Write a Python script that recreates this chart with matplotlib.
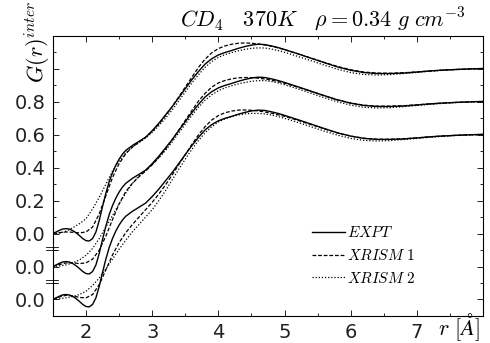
import numpy as np
import matplotlib
matplotlib.use('Agg')
import matplotlib.pyplot as plt
import matplotlib.transforms as mtransforms

plt.rcParams['mathtext.fontset'] = 'cm'

# radial grid for the models (Angstrom)
r = [1.5, 1.6, 1.7, 1.8, 1.9, 2.0, 2.1, 2.2, 2.3, 2.4, 2.5, 2.6, 2.7, 2.8, 2.9,
     3.0, 3.1, 3.2, 3.3, 3.4, 3.5, 3.6, 3.7, 3.8, 3.9, 4.0, 4.1, 4.2, 4.3, 4.4,
     4.5, 4.6, 4.7, 4.8, 4.9, 5.0, 5.2, 5.4, 5.6, 5.8, 6.0, 6.2, 6.4, 6.6, 6.8,
     7.0, 7.2, 7.4, 7.6, 7.8, 8.0]

# experiment (same in every set), finer grid at short range
r_expt = [1.50, 1.55, 1.60, 1.65, 1.70, 1.75, 1.80, 1.85, 1.90, 1.95, 2.00, 2.05,
          2.10, 2.15, 2.20, 2.25, 2.30, 2.35, 2.40, 2.45, 2.50, 2.55, 2.60,
          2.7, 2.8, 2.9, 3.0, 3.1, 3.2, 3.3, 3.4, 3.5, 3.6, 3.7, 3.8, 3.9, 4.0,
          4.1, 4.2, 4.3, 4.4, 4.5, 4.6, 4.7, 4.8, 4.9, 5.0, 5.2, 5.4, 5.6, 5.8,
          6.0, 6.2, 6.4, 6.6, 6.8, 7.0, 7.2, 7.4, 7.6, 7.8, 8.0]
expt = [0.000, 0.010, 0.020, 0.028, 0.030, 0.027, 0.018, 0.005, -0.012, -0.030,
        -0.043, -0.045, -0.030, 0.010, 0.080, 0.165, 0.245, 0.315, 0.370, 0.415,
        0.452, 0.482, 0.505,
        0.535, 0.560, 0.585, 0.625, 0.670, 0.720, 0.770, 0.825, 0.880, 0.935,
        0.985, 1.030, 1.062, 1.085, 1.100, 1.112, 1.125, 1.136, 1.145, 1.150,
        1.148, 1.140, 1.130, 1.118, 1.092, 1.065, 1.038, 1.012, 0.992, 0.978,
        0.972, 0.972, 0.975, 0.981, 0.988, 0.993, 0.997, 1.000, 1.003]

# top set
xr1_a = [0.000, 0.006, 0.010, 0.008, 0.004, 0.010, 0.040, 0.120, 0.230, 0.340,
         0.425, 0.485, 0.525, 0.555, 0.585, 0.620, 0.665, 0.715, 0.770, 0.830,
         0.890, 0.950, 1.010, 1.060, 1.098, 1.124, 1.140, 1.150, 1.156, 1.158,
         1.156, 1.152, 1.146, 1.138, 1.128, 1.117, 1.092, 1.066, 1.040, 1.015,
         0.995, 0.981, 0.975, 0.974, 0.977, 0.982, 0.988, 0.993, 0.997, 1.000, 1.002]
xr2_a = [0.000, 0.002, 0.015, 0.035, 0.060, 0.090, 0.150, 0.220, 0.300, 0.380,
         0.440, 0.490, 0.525, 0.553, 0.580, 0.615, 0.655, 0.700, 0.750, 0.805,
         0.860, 0.915, 0.965, 1.010, 1.045, 1.070, 1.087, 1.099, 1.110, 1.119,
         1.125, 1.128, 1.127, 1.121, 1.112, 1.101, 1.076, 1.050, 1.023, 0.998,
         0.978, 0.966, 0.963, 0.966, 0.972, 0.979, 0.986, 0.992, 0.996, 0.999, 1.001]

# middle set
xr1_b = [0.000, 0.012, 0.022, 0.022, 0.018, 0.022, 0.045, 0.100, 0.185, 0.285,
         0.380, 0.455, 0.505, 0.545, 0.580, 0.618, 0.662, 0.712, 0.768, 0.828,
         0.888, 0.948, 1.005, 1.052, 1.090, 1.115, 1.130, 1.140, 1.146, 1.148,
         1.147, 1.144, 1.139, 1.132, 1.123, 1.113, 1.089, 1.063, 1.037, 1.012,
         0.993, 0.980, 0.974, 0.974, 0.977, 0.982, 0.988, 0.993, 0.997, 1.000, 1.002]
xr2_b = [0.000, 0.003, 0.010, 0.022, 0.040, 0.068, 0.110, 0.170, 0.240, 0.310,
         0.380, 0.445, 0.505, 0.550, 0.585, 0.620, 0.660, 0.705, 0.755, 0.810,
         0.865, 0.918, 0.968, 1.010, 1.043, 1.068, 1.085, 1.098, 1.109, 1.118,
         1.125, 1.129, 1.129, 1.124, 1.115, 1.104, 1.079, 1.052, 1.025, 1.000,
         0.980, 0.967, 0.963, 0.965, 0.971, 0.978, 0.985, 0.991, 0.996, 0.999, 1.001]

# bottom set
xr1_c = [0.000, 0.015, 0.025, 0.022, 0.012, 0.010, 0.030, 0.090, 0.180, 0.270,
         0.345, 0.405, 0.455, 0.500, 0.545, 0.590, 0.640, 0.695, 0.755, 0.818,
         0.880, 0.942, 1.000, 1.050, 1.090, 1.117, 1.134, 1.144, 1.150, 1.151,
         1.149, 1.145, 1.139, 1.131, 1.122, 1.112, 1.088, 1.062, 1.036, 1.011,
         0.992, 0.979, 0.973, 0.973, 0.976, 0.981, 0.988, 0.993, 0.997, 1.000, 1.002]
xr2_c = [0.000, 0.004, 0.010, 0.018, 0.030, 0.050, 0.085, 0.130, 0.185, 0.245,
         0.305, 0.360, 0.410, 0.455, 0.500, 0.545, 0.600, 0.660, 0.725, 0.790,
         0.852, 0.912, 0.966, 1.012, 1.050, 1.078, 1.097, 1.110, 1.120, 1.127,
         1.130, 1.130, 1.127, 1.120, 1.111, 1.100, 1.075, 1.049, 1.022, 0.998,
         0.978, 0.966, 0.962, 0.965, 0.971, 0.978, 0.985, 0.991, 0.996, 0.999, 1.001]

offsets = [0.0, -0.2, -0.4]
sets = [(xr1_a, xr2_a), (xr1_b, xr2_b), (xr1_c, xr2_c)]

ytick_pos = [-0.4, -0.2, 0.0, 0.2, 0.4, 0.6, 0.8, 1.0]
ytick_lab = ['0.0', '0.0', '0.0', '0.2', '0.4', '0.6', '0.8', '']

fig = plt.figure(figsize=(4.9, 3.43), dpi=100)
ax = fig.add_axes([0.108, 0.079, 0.878, 0.816])

r = np.array(r)
r_expt = np.array(r_expt)
for k, (off, (m1, m2)) in enumerate(zip(offsets, sets)):
    ax.plot(r_expt, np.array(expt) + off, c='black', lw=1.0,
            label='$EXPT$' if k == 0 else None)
    ax.plot(r, np.array(m1) + off, c='black', lw=0.9, ls=(0, (3, 1.5)),
            label=r'$XRISM\ \mathrm{1}$' if k == 0 else None)
    ax.plot(r, np.array(m2) + off, c='black', lw=0.9, ls=(0, (1, 1.5)),
            label=r'$XRISM\ \mathrm{2}$' if k == 0 else None)

ax.set_xlim(1.5, 8.0)
ax.set_ylim(-0.5, 1.2)
ax.set_xticks([2, 3, 4, 5, 6, 7])
ax.set_xticks(np.arange(1.5, 8.01, 0.5), minor=True)
ax.set_yticks(ytick_pos)
ax.set_yticklabels(ytick_lab)
ax.set_yticks(np.arange(-0.5, 1.21, 0.1), minor=True)
ax.tick_params(which='both', direction='in', top=True, right=True, width=0.6)
ax.tick_params(which='major', length=4, labelsize=14, labelcolor='#222222', pad=5)
ax.tick_params(which='minor', length=2)
for s in ax.spines.values():
    s.set_linewidth(0.8)

# axis break marks
tr = mtransforms.blended_transform_factory(ax.transAxes, ax.transData)
for yb in [-0.09, -0.29]:
    for dy in [-0.008, 0.008]:
        ax.plot([-0.015, 0.012], [yb + dy, yb + dy], c='black', lw=0.6,
                transform=tr, clip_on=False)

fig.text(0.075, 0.997, r'$G(r)^{inter}$', rotation=90, fontsize=16,
         ha='center', va='top')
fig.text(0.95, 0.945, r'$CD_4\ \ \ \mathrm{370}K\ \ \ \rho\mathrm{=0.34}\ g\ cm^{-3}$',
         fontsize=16, ha='right', va='center')
fig.text(0.893, 0.022, r'$r\ [\AA]$', fontsize=16, ha='left', va='baseline')

ax.legend(loc='upper left', bbox_to_anchor=(0.587, 0.345), frameon=False,
          fontsize=11, handlelength=2.2, handletextpad=0.1, labelspacing=0.5,
          borderaxespad=0)

fig.savefig('out.png', dpi=100)
